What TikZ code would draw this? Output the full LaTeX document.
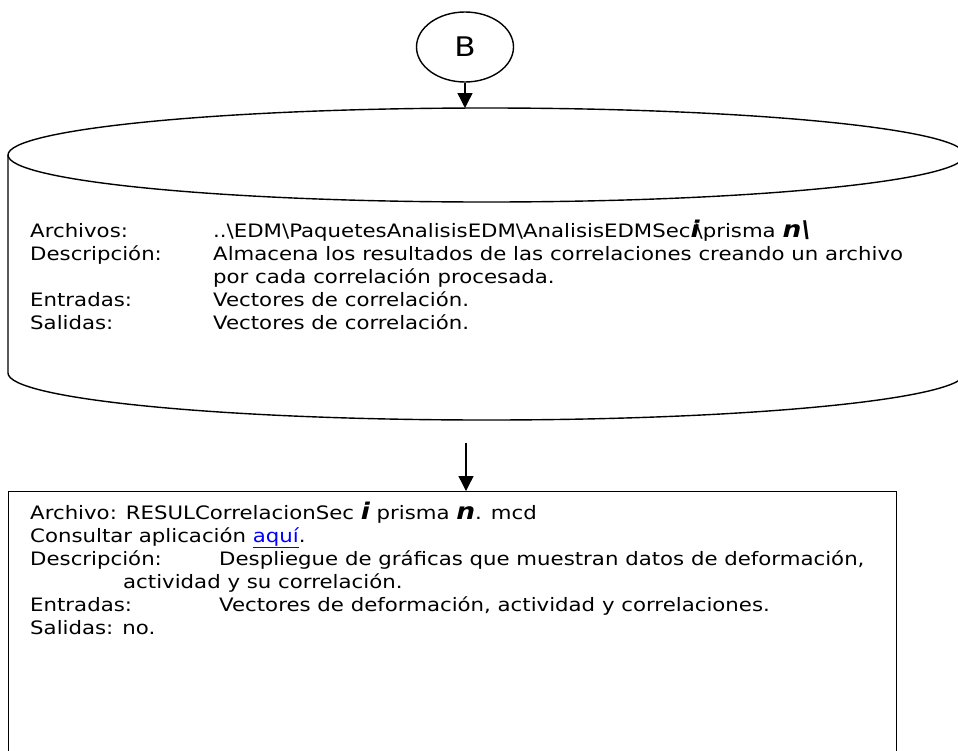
\documentclass[tikz,border=0pt]{standalone}
\usepackage{fontspec}
\setmainfont{DejaVu Sans}[FakeStretch=1.15]
\usepackage{xcolor}
\usepackage{tikz}
\usetikzlibrary{arrows.meta,positioning,shapes.geometric}
\definecolor{linkc}{HTML}{0000FF}
\tikzset{
  ar/.style={-{Triangle[length=15pt,width=15pt]},line width=1.4pt},
  ln/.style={line width=1.4pt},
  tx/.style={anchor=base west,inner sep=0pt,font=\fontsize{18.5}{23}\selectfont},
  nd/.style={ellipse,draw,line width=1.4pt,minimum width=97pt,minimum height=70pt,inner sep=0pt,font=\fontsize{27}{27}\selectfont}
}
\newcommand{\bivar}[1]{{\bfseries\itshape\fontsize{23}{23}\selectfont #1}}

\begin{document}
\begin{tikzpicture}[x=1pt,y=1pt]
\useasboundingbox (0,0) rectangle (958,-750);
\clip (0,0) rectangle (958,-750);
\node[nd] (b) at (465,-47) {B};
\coordinate (cyltop) at (465,-108);
\draw[ln] (486.5,-155) ellipse [x radius=478.5,y radius=47];
\draw[ln] (8,-155) -- (8,-373) arc[start angle=180,end angle=360,x radius=478.5,y radius=47] -- (965,-155);
\draw[ar] (b) -- (cyltop);
\node[tx] (arl) at (30,-237) {Archivos:};
\node[tx] (arv) at (213,-237) {..\textbackslash EDM\textbackslash PaquetesAnalisisEDM\textbackslash AnalisisEDMSec\bivar{i}\kern-4pt\textbackslash prisma \bivar{n\textbackslash}};
\node[tx] (del) at (30,-260) {Descripción:};
\node[tx] (dev) at (213,-260) {Almacena los resultados de las correlaciones creando un archivo};
\node[tx] (dev2) at (213,-283) {por cada correlación procesada.};
\node[tx] (enl) at (30,-306) {Entradas:};
\node[tx] (env) at (213,-306) {Vectores de correlación.};
\node[tx] (sal) at (30,-329) {Salidas:};
\node[tx] (sav) at (213,-329) {Vectores de correlación.};
\node[draw,ln,anchor=north west,minimum width=888pt,minimum height=300pt,inner sep=0pt] (res) at (8,-491) {};
\coordinate (a2) at (466,-443);
\draw[ar] (a2) -- (a2 |- res.north);
\node[tx] (rfile) at (30,-519) {Archivo: RESULCorrelacionSec \bivar{i} prisma \bivar{n}. mcd};
\node[tx] (rapp) at (30,-542) {Consultar aplicación \textcolor{linkc}{\underline{aquí}}.};
\node[tx] (rdl) at (30,-565) {Descripción:};
\node[tx] (rdv) at (219,-565) {Despliegue de gráficas que muestran datos de deformación,};
\node[tx] (rdv2) at (123,-588) {actividad y su correlación.};
\node[tx] (rel) at (30,-611) {Entradas:};
\node[tx] (rev) at (219,-611) {Vectores de deformación, actividad y correlaciones.};
\node[tx] (rsl) at (30,-634) {Salidas: no.};
\end{tikzpicture}
\end{document}
